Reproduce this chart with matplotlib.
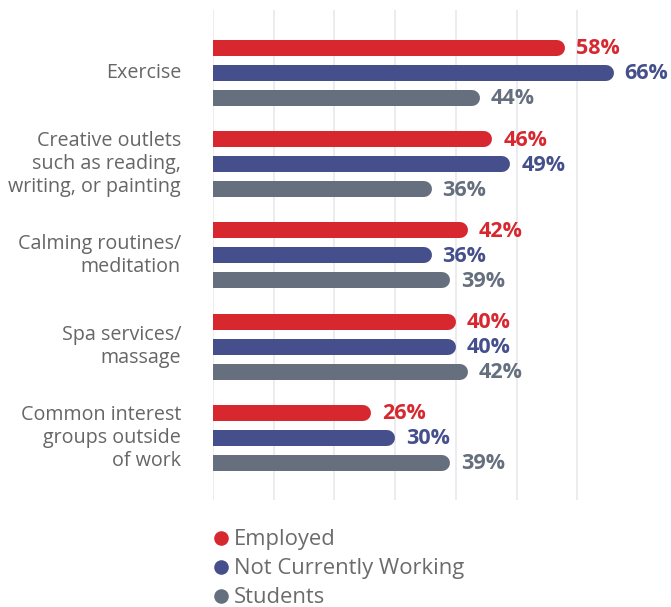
import numpy as np
import matplotlib.pyplot as plt
from matplotlib.lines import Line2D

categories = [
    "Exercise",
    "Creative outlets\nsuch as reading,\nwriting, or painting",
    "Calming routines/\nmeditation",
    "Spa services/\nmassage",
    "Common interest\ngroups outside\nof work",
]
series_names = ["Employed", "Not Currently Working", "Students"]
employed = [58, 46, 42, 40, 26]
not_working = [66, 49, 36, 40, 30]
students = [44, 36, 39, 42, 39]
colors = ["#d7282f", "#454f8b", "#666f7e"]

W, H = 671, 607
fig = plt.figure(figsize=(W / 100, H / 100), dpi=100)
# axes box in pixels: x 213..671, y 10..500
ax = fig.add_axes([213 / W, 1 - 500 / H, (W - 213) / W, 490 / H])

px_per_unit = 60.7 / 10  # one gridline step (10%) is ~60.7 px
xmax = (W - 213) / px_per_unit
ax.set_xlim(0, xmax)
group_px = 91.2
ax.set_ylim((500 - 73) / group_px, (10 - 73) / group_px)

for x in range(0, 70, 10):
    ax.axvline(x, color="#eaeaee", lw=1.3, zorder=0)

bar_px = 16
bar_pt = bar_px * 72 / 100
r = (bar_px / 2) / px_per_unit
offset = 25 / group_px

for k, (vals, c) in enumerate(zip([employed, not_working, students], colors)):
    for i, v in enumerate(vals):
        y = i + (k - 1) * offset
        ax.plot([-5, v - r], [y, y], color=c, lw=bar_pt, solid_capstyle="round", zorder=2)
        ax.text(v + 11 / px_per_unit, y + 0.01, f"{v}%", color=c, fontsize=15.5,
                fontweight="bold", family="Open Sans", va="center", ha="left")

for i, cat in enumerate(categories):
    ax.text(-32 / px_per_unit, i, cat, ha="right", va="center", fontsize=14.2,
            color="#666666", family="Open Sans", linespacing=1.2, clip_on=False)

for s in ax.spines.values():
    s.set_visible(False)
ax.set_xticks([])
ax.set_yticks([])

# legend drawn as dots plus text in figure pixels
for k, (name, c) in enumerate(zip(series_names, colors)):
    yy = 1 - (538 + 29 * k) / H
    fig.add_artist(Line2D([221 / W], [yy], marker="o", markersize=10.5, color=c,
                          markeredgewidth=0, transform=fig.transFigure))
    fig.text(234 / W, yy - 0.002, name, color="#6b6b6b", fontsize=15.8, ha="left",
             va="center", family="Open Sans")

fig.savefig("out.png", dpi=100)
